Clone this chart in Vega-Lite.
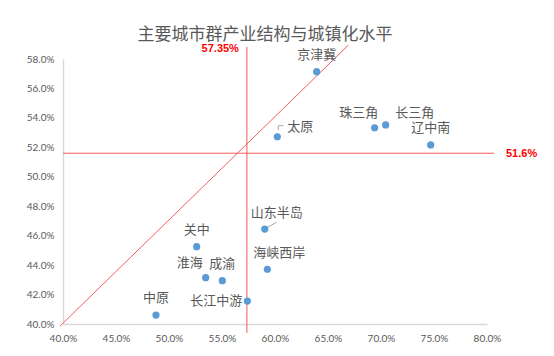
{
  "$schema": "https://vega.github.io/schema/vega-lite/v6.json",
  "width": 424,
  "height": 265,
  "autosize": {"type": "none"},
  "padding": {"left": 63, "top": 59, "right": 67, "bottom": 32},
  "background": "white",
  "title": {
    "text": "主要城市群产业结构与城镇化水平",
    "font": "Noto Sans CJK SC",
    "fontSize": 17,
    "fontWeight": "normal",
    "color": "#595959",
    "anchor": "middle",
    "dx": -10,
    "offset": -1
  },
  "config": {
    "view": {"stroke": null},
    "axis": {
      "grid": false,
      "ticks": false,
      "tickSize": 0,
      "labelPadding": 9,
      "domainColor": "#D9D9D9",
      "domainWidth": 1.5,
      "labelColor": "#595959",
      "labelFont": "Lato",
      "labelFontSize": 10,
      "labelFlush": false,
      "labelOverlap": false,
      "labelBound": false,
      "title": null
    }
  },
  "datasets": {
    "cities": [
      {"city": "京津冀", "x": 0.6393, "y": 0.5714},
      {"city": "太原", "x": 0.6022, "y": 0.5272},
      {"city": "珠三角", "x": 0.6940, "y": 0.5333},
      {"city": "长三角", "x": 0.7044, "y": 0.5352},
      {"city": "辽中南", "x": 0.7469, "y": 0.5216},
      {"city": "山东半岛", "x": 0.5903, "y": 0.4645},
      {"city": "海峡西岸", "x": 0.5928, "y": 0.4372},
      {"city": "关中", "x": 0.5261, "y": 0.4525},
      {"city": "淮海", "x": 0.5346, "y": 0.4315},
      {"city": "成渝", "x": 0.5503, "y": 0.4294},
      {"city": "长江中游", "x": 0.5739, "y": 0.4156},
      {"city": "中原", "x": 0.4877, "y": 0.4061}
    ],
    "diag": [
      {"x": 0.3972, "y": 0.3986},
      {"x": 0.6693, "y": 0.5895}
    ],
    "vref": [
      {"x": 0.5735, "y": 0.3939, "y2": 0.5882, "label": "57.35%"}
    ],
    "href": [
      {"x": 0.4, "x2": 0.8066, "y": 0.516, "label": "51.6%"}
    ],
    "leaders": [
      {"x": 0.6031, "y": 0.5318, "x2": 0.6031, "y2": 0.5347},
      {"x": 0.6031, "y": 0.5347, "x2": 0.6080, "y2": 0.5347},
      {"x": 0.5910, "y": 0.4649, "x2": 0.6016, "y2": 0.4691}
    ]
  },
  "encoding": {
    "x": {
      "field": "x",
      "type": "quantitative",
      "scale": {"domain": [0.4, 0.8], "nice": false, "zero": false},
      "axis": {"format": ".1%", "values": [0.4, 0.45, 0.5, 0.55, 0.6, 0.65, 0.7, 0.75, 0.8]}
    },
    "y": {
      "field": "y",
      "type": "quantitative",
      "scale": {"domain": [0.4, 0.58], "nice": false, "zero": false},
      "axis": {"format": ".1%", "values": [0.4, 0.42, 0.44, 0.46, 0.48, 0.5, 0.52, 0.54, 0.56, 0.58]}
    }
  },
  "layer": [
    {
      "data": {"name": "diag"},
      "mark": {"type": "line", "color": "#F25C5C", "strokeWidth": 1, "clip": false}
    },
    {
      "data": {"name": "vref"},
      "mark": {"type": "rule", "color": "#F25C5C", "strokeWidth": 1},
      "encoding": {"y2": {"field": "y2"}}
    },
    {
      "data": {"name": "href"},
      "mark": {"type": "rule", "color": "#F25C5C", "strokeWidth": 1},
      "encoding": {"x2": {"field": "x2"}}
    },
    {
      "data": {"name": "vref"},
      "mark": {"type": "text", "color": "#FF0000", "font": "Liberation Sans", "fontSize": 11, "fontWeight": "bold", "align": "right", "baseline": "middle", "dx": -8, "dy": 2},
      "encoding": {
        "y": {"field": "y2", "type": "quantitative"},
        "text": {"field": "label"}
      }
    },
    {
      "data": {"name": "href"},
      "mark": {"type": "text", "color": "#FF0000", "font": "Liberation Sans", "fontSize": 11, "fontWeight": "bold", "align": "left", "baseline": "middle", "dx": 12, "dy": 1},
      "encoding": {
        "x": {"field": "x2", "type": "quantitative"},
        "text": {"field": "label"}
      }
    },
    {
      "data": {"name": "leaders"},
      "mark": {"type": "rule", "color": "#A6A6A6", "strokeWidth": 1},
      "encoding": {
        "x2": {"field": "x2"},
        "y2": {"field": "y2"}
      }
    },
    {
      "data": {"name": "cities"},
      "mark": {"type": "circle", "color": "#5B9BD5", "size": 52, "opacity": 1}
    },
    {
      "data": {"name": "cities"},
      "transform": [{"filter": {"field": "city", "oneOf": ["京津冀", "辽中南", "关中", "成渝", "中原"]}}],
      "mark": {"type": "text", "font": "Noto Sans CJK SC", "fontSize": 13, "color": "#595959", "align": "center", "baseline": "middle", "dy": -17},
      "encoding": {"text": {"field": "city"}}
    },
    {
      "data": {"name": "cities"},
      "transform": [{"filter": {"field": "city", "oneOf": ["珠三角", "淮海"]}}],
      "mark": {"type": "text", "font": "Noto Sans CJK SC", "fontSize": 13, "color": "#595959", "align": "center", "baseline": "middle", "dx": -16, "dy": -15},
      "encoding": {"text": {"field": "city"}}
    },
    {
      "data": {"name": "cities"},
      "transform": [{"filter": {"field": "city", "oneOf": ["山东半岛", "海峡西岸"]}}],
      "mark": {"type": "text", "font": "Noto Sans CJK SC", "fontSize": 13, "color": "#595959", "align": "center", "baseline": "middle", "dx": 12, "dy": -16},
      "encoding": {"text": {"field": "city"}}
    },
    {
      "data": {"name": "cities"},
      "transform": [{"filter": {"field": "city", "equal": "太原"}}],
      "mark": {"type": "text", "font": "Noto Sans CJK SC", "fontSize": 13, "color": "#595959", "align": "center", "baseline": "middle", "dx": 23, "dy": -10},
      "encoding": {"text": {"field": "city"}}
    },
    {
      "data": {"name": "cities"},
      "transform": [{"filter": {"field": "city", "equal": "长三角"}}],
      "mark": {"type": "text", "font": "Noto Sans CJK SC", "fontSize": 13, "color": "#595959", "align": "center", "baseline": "middle", "dx": 29, "dy": -12},
      "encoding": {"text": {"field": "city"}}
    },
    {
      "data": {"name": "cities"},
      "transform": [{"filter": {"field": "city", "equal": "长江中游"}}],
      "mark": {"type": "text", "font": "Noto Sans CJK SC", "fontSize": 13, "color": "#595959", "align": "center", "baseline": "middle", "dx": -31, "dy": 0},
      "encoding": {"text": {"field": "city"}}
    }
  ]
}
